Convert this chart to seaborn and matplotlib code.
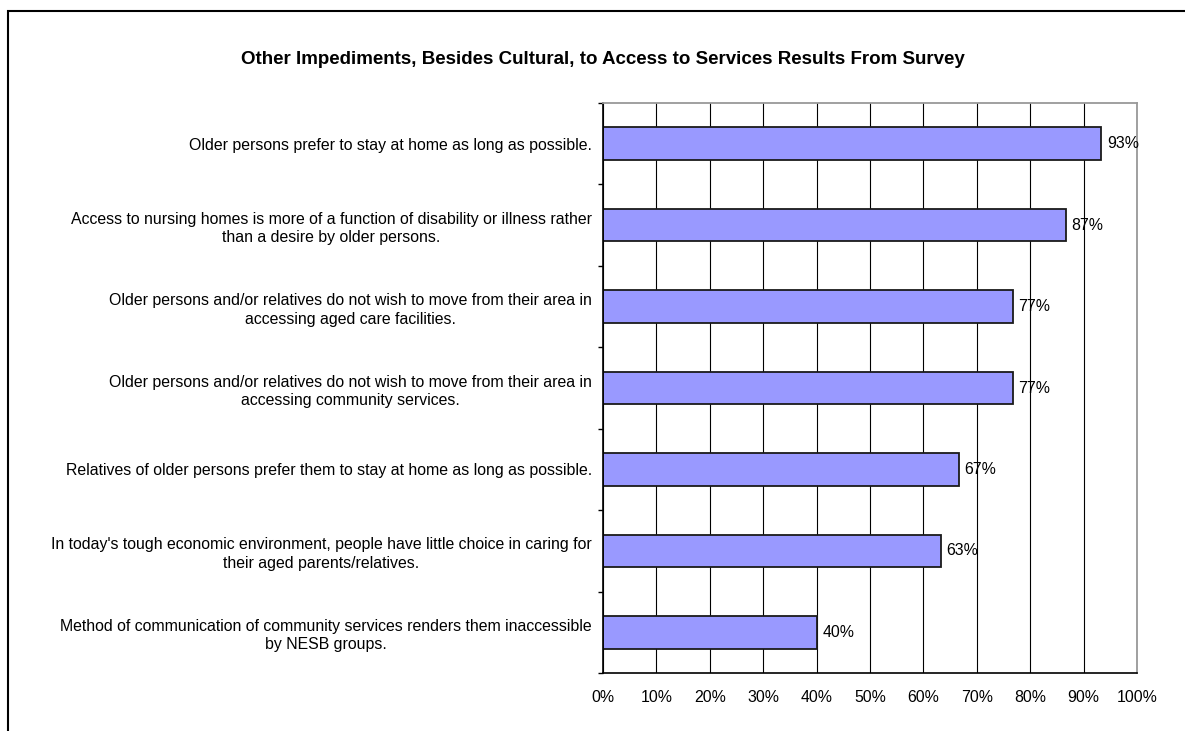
import numpy as np
import pandas as pd
import matplotlib.pyplot as plt
import seaborn as sns
from matplotlib.patches import Rectangle

title = "Other Impediments, Besides Cultural, to Access to Services Results From Survey"
categories = [
    "Older persons prefer to stay at home as long as possible.",
    "Access to nursing homes is more of a function of disability or illness rather\nthan a desire by older persons.",
    "Older persons and/or relatives do not wish to move from their area in\naccessing aged care facilities.",
    "Older persons and/or relatives do not wish to move from their area in\naccessing community services.",
    "Relatives of older persons prefer them to stay at home as long as possible.",
    "In today's tough economic environment, people have little choice in caring for\ntheir aged parents/relatives.",
    "Method of communication of community services renders them inaccessible\nby NESB groups.",
]
values = [93.3, 86.7, 76.7, 76.7, 66.7, 63.3, 40.0]
x_ticks = [0, 10, 20, 30, 40, 50, 60, 70, 80, 90, 100]
x_tick_labels = [f"{t}%" for t in x_ticks]

sns.set_style("white")
plt.rcParams['font.family'] = ['Liberation Sans', 'DejaVu Sans']
plt.rcParams['text.color'] = 'black'
plt.rcParams['xtick.color'] = 'black'
plt.rcParams['ytick.color'] = 'black'

fs = 11.4

fig = plt.figure(figsize=(11.85, 7.31), dpi=100)
ax = fig.add_axes([603 / 1185, 1 - 673 / 731, 534 / 1185, 570 / 731])

df = pd.DataFrame({"item": categories, "pct": values})
sns.barplot(data=df, x="pct", y="item", orient="h", color="#9999FF", saturation=1,
            width=0.4, edgecolor="#1a1a1a", linewidth=1.3, ax=ax)

ax.set_xlim(0, 100)
ax.set_ylim(len(categories) - 0.5, -0.5)
ax.set_xticks(x_ticks)
ax.set_xticklabels(x_tick_labels)
ax.set_xlabel("")
ax.set_ylabel("")
ax.tick_params(axis="x", direction="out", length=3.6, width=1, pad=9, labelsize=fs)
ax.tick_params(axis="y", which="major", length=0, pad=8, labelsize=fs)
ax.set_yticks(np.arange(-0.5, len(categories), 1), minor=True)
ax.tick_params(axis="y", which="minor", direction="out", length=3.6, width=1, left=True)
for lab in ax.get_yticklabels():
    lab.set_multialignment("center")
    lab.set_linespacing(1.3)

ax.xaxis.grid(True, color="black", lw=0.8)
ax.set_axisbelow(True)
for side in ["left", "bottom"]:
    ax.spines[side].set_color("black")
    ax.spines[side].set_linewidth(1.2)
for side in ["top", "right"]:
    ax.spines[side].set_color("#999999")
    ax.spines[side].set_linewidth(1.3)

ax.bar_label(ax.containers[0], labels=[f"{v:.0f}%" for v in values], padding=4, fontsize=fs)

fig.text(603 / 1185, 1 - 60 / 731, title, ha="center", va="center", fontsize=13.5, fontweight="bold")

fig.add_artist(Rectangle((8 / 1185, -0.1), 1.2, 1.1 - 11 / 731, transform=fig.transFigure,
                         fill=False, lw=1.5, ec="black", clip_on=False))

fig.savefig("out.png", dpi=100)
